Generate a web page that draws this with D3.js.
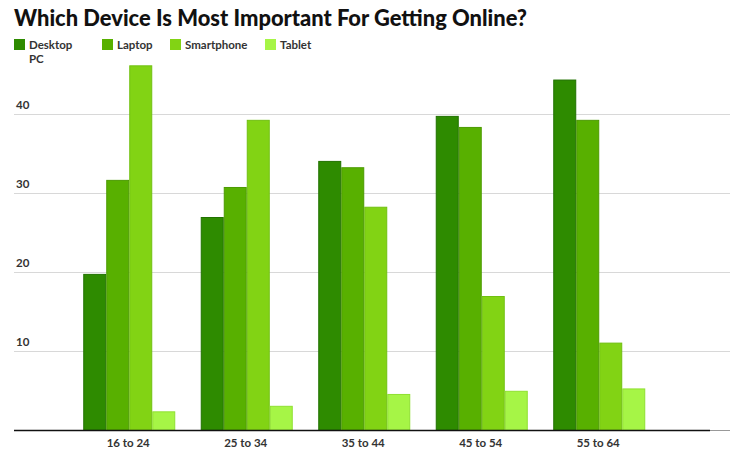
<!DOCTYPE html>
<html><head><meta charset="utf-8">
<script src="https://cdn.jsdelivr.net/npm/d3@7"></script>
<style>body{margin:0;background:#fff;} text{font-family:Lato,"Noto Sans",sans-serif;}</style>
</head><body><svg id="c" width="745" height="449"></svg>
<script>
const title = "Which Device Is Most Important For Getting Online?";
const categories = ["16 to 24","25 to 34","35 to 44","45 to 54","55 to 64"];
const seriesNames = ["Desktop PC","Laptop","Smartphone","Tablet"];
const desktop = [19.8, 27.0, 34.1, 39.8, 44.4];
const laptop = [31.7, 30.8, 33.3, 38.4, 39.3];
const smartphone = [46.2, 39.3, 28.3, 17.0, 11.1];
const tablet = [2.4, 3.1, 4.6, 5.0, 5.3];
const yTicks = [10, 20, 30, 40];
const values = [desktop, laptop, smartphone, tablet];
const fills = ["#2e8b00","#58b000","#82d314","#a6f546"];
const strokes = ["#217200","#4b9a00","#70c010","#8fe030"];

const svg = d3.select("#c");
const left = 14, right = 730, y0 = 430.3, yTop = 114.3;
const y = d3.scaleLinear().domain([0, 40]).range([y0, yTop]);
const x = d3.scaleBand().domain(categories).range([24.5, 704]).paddingInner(0.217).paddingOuter(0.5);
const xs = d3.scaleBand().domain(seriesNames).range([0, x.bandwidth()]);

svg.append("text").attr("x", 14).attr("y", 26).attr("font-size", 21.9).attr("font-weight", 900)
  .attr("fill", "#111").text(title);

// legend
const legX = [14, 102, 170, 265];
const leg = svg.append("g");
seriesNames.forEach((s, i) => {
  const g = leg.append("g").attr("transform", `translate(${legX[i]},39)`);
  g.append("rect").attr("width", 11).attr("height", 11).attr("fill", fills[i]);
  const t = g.append("text").attr("x", 15).attr("y", 10).attr("font-size", 11.5).attr("font-weight", 700).attr("fill", "#333");
  if (i === 0) {
    t.append("tspan").attr("x", 15).text("Desktop");
    t.append("tspan").attr("x", 15).attr("dy", 14).text("PC");
  } else t.text(s);
});

// grid
const grid = svg.append("g");
grid.selectAll("line").data(yTicks).join("line")
  .attr("x1", left).attr("x2", right).attr("y1", d => Math.round(y(d)) + 0.5).attr("y2", d => Math.round(y(d)) + 0.5)
  .attr("stroke", "#d8d8d8").attr("stroke-width", 1);
grid.selectAll("text").data(yTicks).join("text")
  .attr("x", 16).attr("y", d => y(d) - 5).attr("font-size", 11.5).attr("font-weight", 700).attr("fill", "#333")
  .text(d => d);

// bars
const groups = svg.append("g").selectAll("g").data(categories).join("g")
  .attr("transform", d => `translate(${x(d)},0)`);
groups.selectAll("rect").data((c, ci) => seriesNames.map((s, si) => ({s, si, v: values[si][ci]})))
  .join("rect")
  .attr("x", d => xs(d.s) + 0.5).attr("width", xs.bandwidth() - 1)
  .attr("y", d => y(d.v) + 0.5).attr("height", d => y0 - y(d.v) - 0.5)
  .attr("fill", d => fills[d.si]).attr("stroke", d => strokes[d.si]).attr("stroke-width", 1);

// baseline
svg.append("line").attr("x1", left).attr("x2", 710).attr("y1", 430.5).attr("y2", 430.5).attr("stroke", "#111").attr("stroke-width", 1.3);
svg.append("line").attr("x1", 710).attr("x2", right).attr("y1", 430.5).attr("y2", 430.5).attr("stroke", "#999").attr("stroke-width", 1);

// x labels
svg.append("g").selectAll("text").data(categories).join("text")
  .attr("x", d => x(d) + x.bandwidth() / 2 - 1).attr("y", 447).attr("text-anchor", "middle")
  .attr("font-size", 11.5).attr("font-weight", 700).attr("fill", "#333").text(d => d);
</script></body></html>
